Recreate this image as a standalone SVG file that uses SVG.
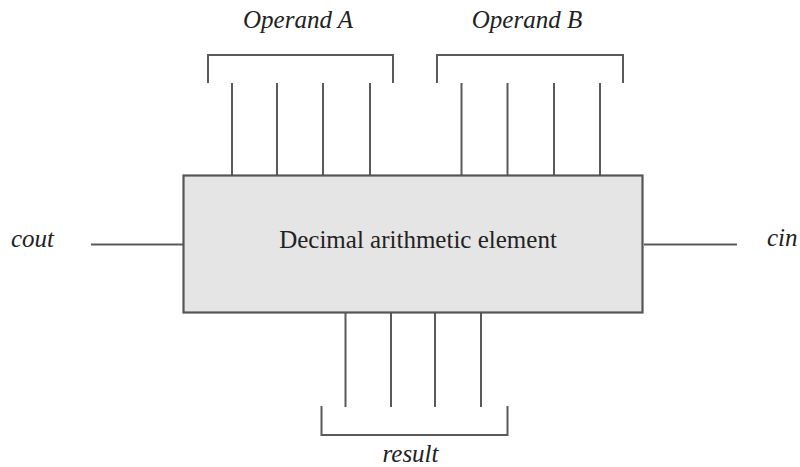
<svg xmlns="http://www.w3.org/2000/svg" width="800" height="467" viewBox="0 0 800 467">
<style>
.ln{stroke:#5a5a5a;stroke-width:2;fill:none}
.box{fill:#e5e5e5;stroke:#555;stroke-width:2.2}
text{font-family:'Times New Roman','DejaVu Serif',serif;font-size:25px;fill:#222}
.it{font-style:italic}
</style>
<rect width="800" height="467" fill="#fff"/>
<g id="connectors">
<path class="ln" d="M232 83V175M277 83V175M323 83V175M370 83V175"/>
<path class="ln" d="M461.5 83V175M507.5 83V175M554 83V175M600 83V175"/>
<path class="ln" d="M345.5 313V407M391 313V407M435 313V407M481 313V407"/>
<path class="ln" d="M91 244.5H183M644 244.5H737"/>
</g>
<g id="element">
<rect class="box" x="183.5" y="175.5" width="459" height="137"/>
<text x="418" y="248" text-anchor="middle">Decimal arithmetic element</text>
</g>
<g id="operandA">
<path class="ln" d="M208 83V55H393V83"/>
<text class="it" x="298" y="28" text-anchor="middle">Operand A</text>
</g>
<g id="operandB">
<path class="ln" d="M437 83V55H623V83"/>
<text class="it" x="527" y="28" text-anchor="middle">Operand B</text>
</g>
<g id="result">
<path class="ln" d="M321.5 406V435H507.5V406"/>
<text class="it" x="410.5" y="462" text-anchor="middle">result</text>
</g>
<g id="cout">
<text class="it" x="11" y="247">cout</text>
</g>
<g id="cin">
<text class="it" x="767" y="246">cin</text>
</g>
</svg>
